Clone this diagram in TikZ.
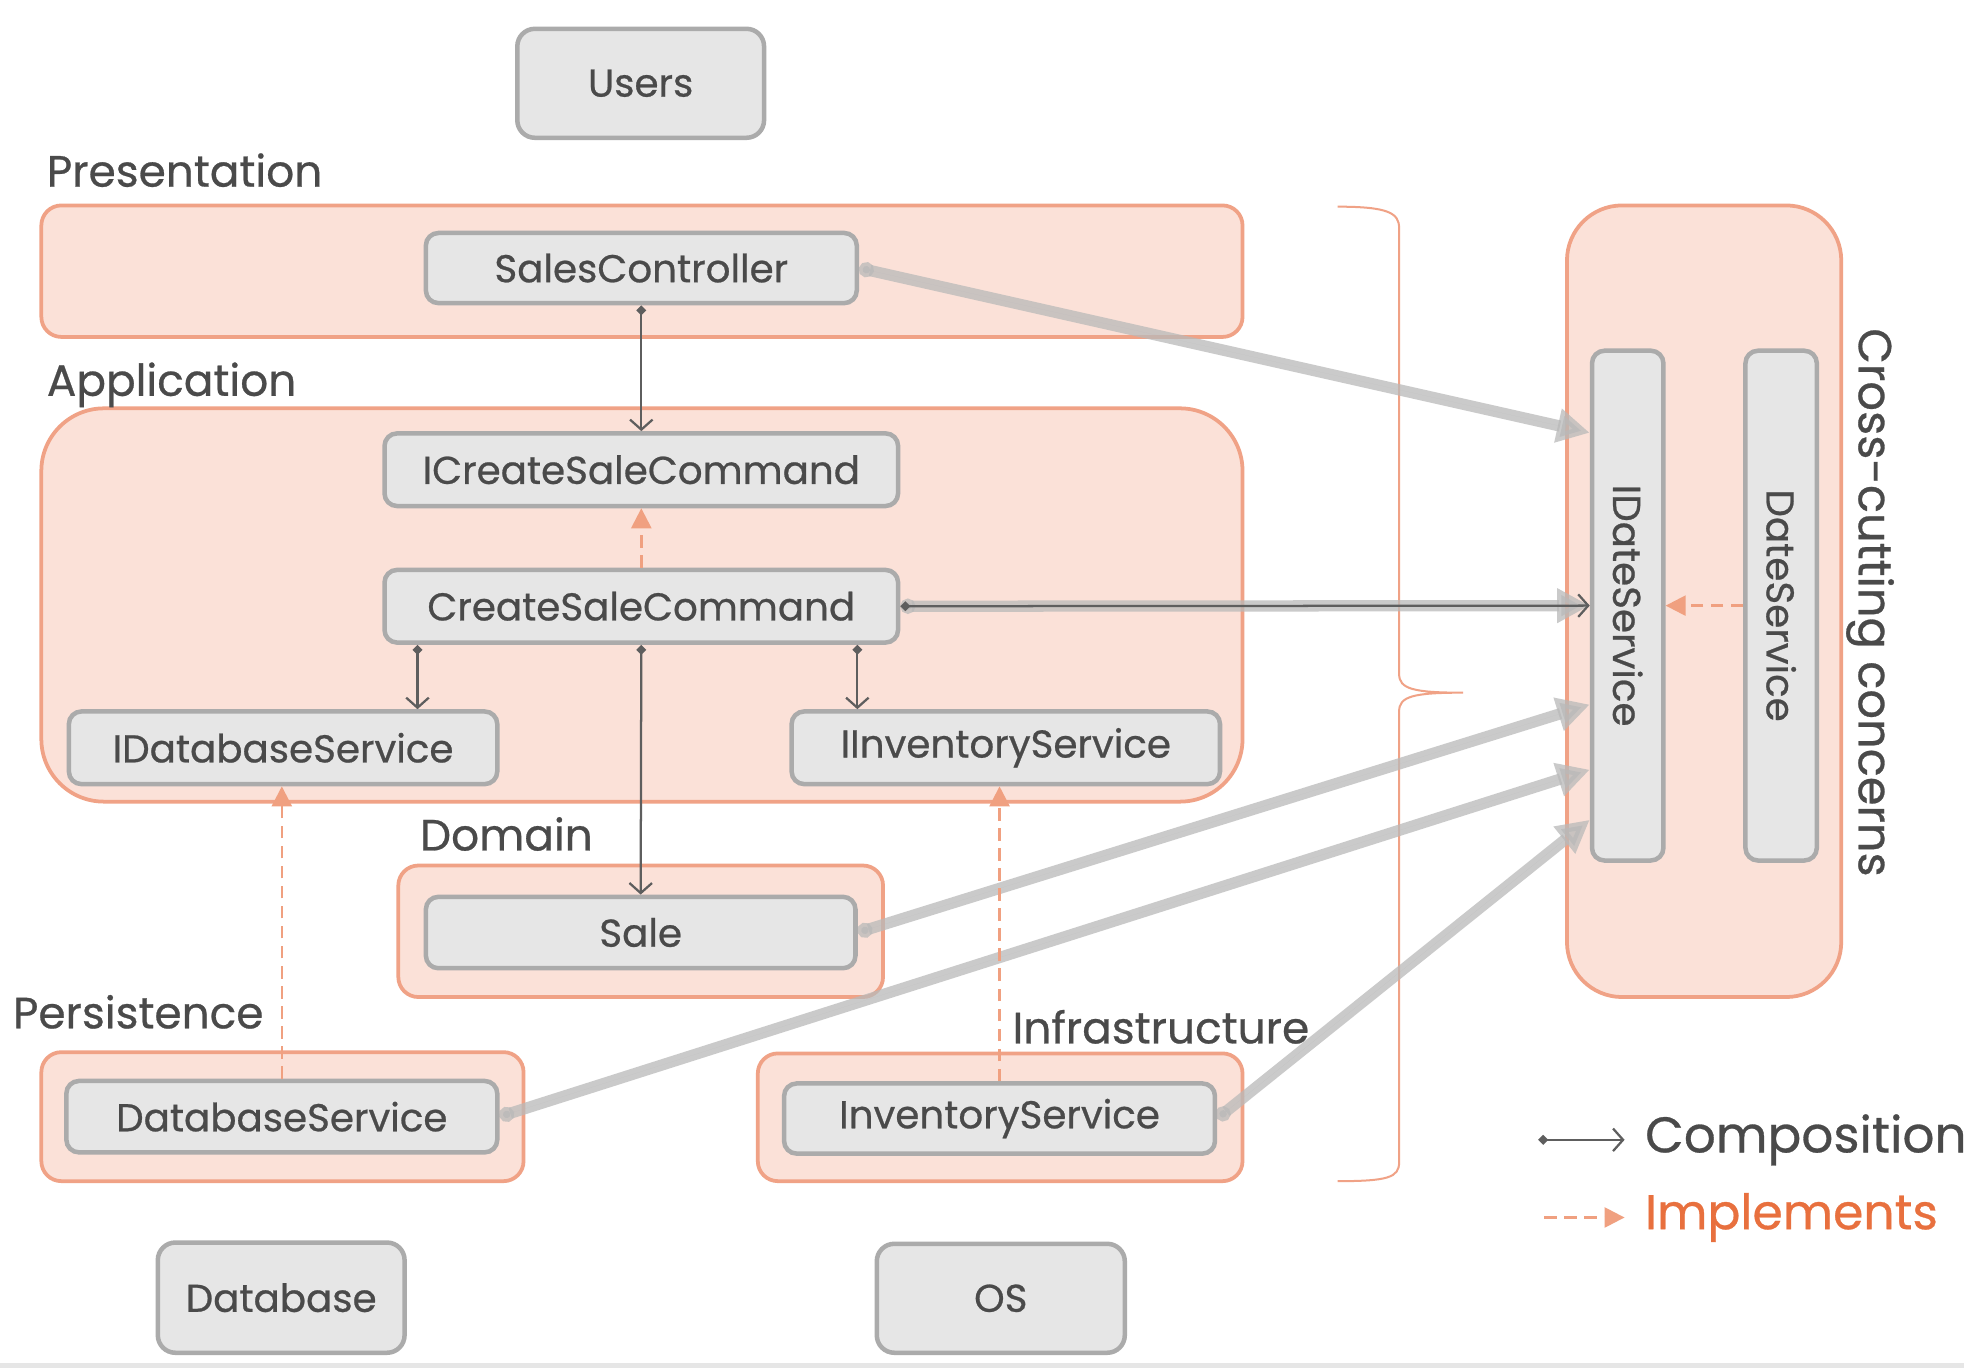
\documentclass[tikz,border=0pt]{standalone}
\usepackage{fontspec}
\setmainfont{Poppins}[FakeBold=0.6]
\usetikzlibrary{arrows.meta,calc}
\definecolor{bandfill}{HTML}{FBE1D8}
\definecolor{bandline}{HTML}{F0A286}
\definecolor{boxfill}{HTML}{E6E6E6}
\definecolor{boxline}{HTML}{ABABAB}
\definecolor{txt}{HTML}{4A4A4A}
\definecolor{compc}{HTML}{5E5E5E}
\definecolor{implc}{HTML}{F0A080}
\definecolor{impltxt}{HTML}{E8703E}
\definecolor{thickc}{HTML}{B9B9B9}
\pgfdeclarelayer{bg}
\pgfdeclarelayer{mid}
\pgfsetlayers{bg,mid,main}
\tikzset{
  band/.style={draw=bandline, fill=bandfill, line width=1.5pt},
  box/.style={draw=boxline, fill=boxfill, line width=1.8pt, rounded corners=5pt,
    inner sep=0pt, text=txt, font=\fontsize{15.5}{17}\selectfont},
  bigbox/.style={box, rounded corners=7pt, minimum width=98.5pt, minimum height=43.5pt},
  lbl/.style={text=txt, inner sep=0pt, font=\fontsize{17.5}{19}\selectfont},
  comp/.style={draw=compc, line width=0.9pt,
    {Turned Square[length=4pt,width=4pt]}-{Straight Barb[length=4pt,width=9pt]}},
  impl/.style={draw=implc, line width=1pt, dash pattern=on 5pt off 3pt,
    -{Triangle[length=8pt,width=8pt]}},
  thick/.style={draw=thickc, draw opacity=0.75, fill=thickc, fill opacity=0.75, line width=4.5pt,
    {Circle[length=6pt]}-{Triangle[length=13pt,width=13pt]}},
  bracestyle/.style={draw=bandline, line width=0.8pt}
}
\begin{document}
\begin{tikzpicture}[x=0.5pt,y=-0.5pt]
\useasboundingbox (0,0) rectangle (1568,1092);

% background and bands
\begin{pgfonlayer}{bg}
\fill[white] (0,0) rectangle (1568,1092);
\fill[boxfill] (0,1088) rectangle (1568,1092);
\draw[band, rounded corners=8pt] (33,164) rectangle (992,269);
\draw[band, rounded corners=25pt] (33,326) rectangle (992,640);
\draw[band, rounded corners=8pt] (318,691) rectangle (705,796);
\draw[band, rounded corners=8pt] (33,840) rectangle (418,943);
\draw[band, rounded corners=8pt] (605,841) rectangle (992,943);
\draw[band, rounded corners=22pt] (1251,164) rectangle (1470,796);
\draw[bracestyle] (1068,165) .. controls (1108,165) and (1117,170) .. (1117,182)
  -- (1117,538) .. controls (1117,550) and (1128,553) .. (1168,553)
  .. controls (1128,553) and (1117,556) .. (1117,568)
  -- (1117,928) .. controls (1117,940) and (1108,943) .. (1068,943);
\end{pgfonlayer}

% labels
\node[lbl, anchor=base west] (lpres) at (37,149) {Presentation};
\node[lbl, anchor=base west] (lapp) at (37,316) {Application};
\node[lbl, anchor=base west] (ldom) at (335,679) {Domain};
\node[lbl, anchor=base west] (lpers) at (10,821) {Persistence};
\node[lbl, anchor=base west] (linfra) at (808,833) {Infrastructure};
\node[lbl, rotate=-90, font=\fontsize{18.5}{20}\selectfont] (lcross) at (1493,481) {Cross-cutting concerns};

% nodes
\node[bigbox] (users) at (511.5,66.5) {Users};
\node[box, minimum width=172pt, minimum height=28pt] (sc) at (512,214) {SalesController};
\node[box, minimum width=205pt, minimum height=29pt] (icsc) at (512,375) {ICreateSaleCommand};
\node[box, minimum width=205pt, minimum height=29pt] (csc) at (512,484) {CreateSaleCommand};
\node[box, minimum width=171pt, minimum height=29pt] (idb) at (226,597) {IDatabaseService};
\node[box, minimum width=171pt, minimum height=29pt] (iinv) at (803,597) {IInventoryService};
\node[box, minimum width=171.5pt, minimum height=28.5pt] (sale) at (511.5,744.5) {Sale};
\node[box, minimum width=172pt, minimum height=28.5pt] (dbs) at (225,891.5) {DatabaseService};
\node[box, minimum width=172pt, minimum height=28pt] (invs) at (798,893) {InventoryService};
\node[bigbox, minimum width=98.5pt, minimum height=44pt] (db) at (224.5,1036) {Database};
\node[bigbox, minimum width=99pt] (os) at (799,1036.5) {OS};
\node[box, minimum width=28.5pt, minimum height=203.5pt] (ids) at (1299.5,483.5) {\rotatebox{-90}{IDateService}};
\node[box, minimum width=28.5pt, minimum height=203.5pt] (ds) at (1422,483.5) {\rotatebox{-90}{DateService}};

% thick dependency arrows
\begin{pgfonlayer}{mid}
\draw[thick] (sc.east) -- ($(ids.west)+(0,-138)$);
\draw[thick] (csc.east) -- (ids.west);
\draw[thick] (sale.east) -- ($(ids.west)+(0,79)$);
\draw[thick] (dbs.east) -- ($(ids.west)+(0,131)$);
\draw[thick] (invs.east) -- ($(ids.west)+(0,171)$);
\end{pgfonlayer}

% composition
\draw[comp] (sc.south) -- (icsc.north);
\draw[comp] (csc.east) -- (ids.west);
\coordinate (cscl) at ($(csc.south west)!0.068!(csc.south east)$);
\coordinate (cscr) at ($(csc.south west)!0.917!(csc.south east)$);
\draw[comp] (cscl) -- (cscl |- idb.north);
\draw[comp] (cscr) -- (cscr |- iinv.north);
\draw[comp] (csc.south) -- (sale.north);

% implements
\draw[impl] (csc.north) -- (icsc.south);
\draw[impl] (dbs.north) -- (dbs.north |- idb.south);
\draw[impl] (invs.north) -- (invs.north |- iinv.south);
\draw[impl] (ds.west) -- (ids.east);

% legend
\coordinate (lc1) at (1228,910);
\coordinate (lc2) at (1297,910);
\coordinate (li1) at (1233,972);
\coordinate (li2) at (1297,972);
\draw[comp] (lc1) -- (lc2);
\draw[impl] (li1) -- (li2);
\node[lbl, anchor=west, font=\fontsize{20}{22}\selectfont] (lcomp) at (1313,910) {Composition};
\node[lbl, anchor=west, text=impltxt, font=\fontsize{19.5}{22}\selectfont] (limpl) at (1313,972) {Implements};
\end{tikzpicture}
\end{document}
